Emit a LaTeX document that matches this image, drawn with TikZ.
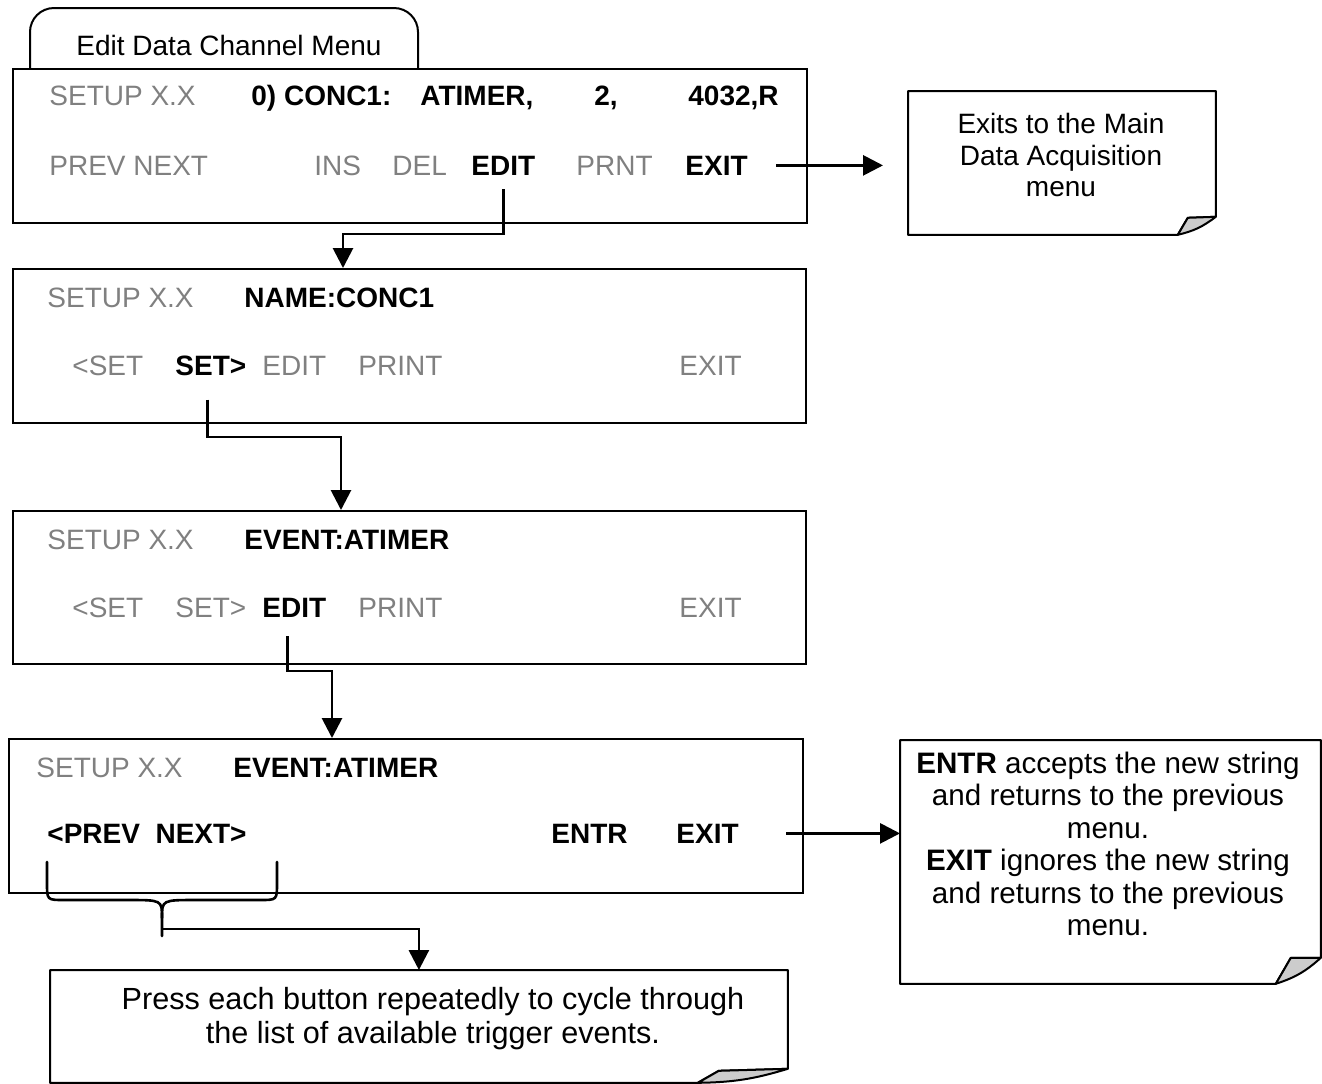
\documentclass[tikz,border=0pt]{standalone}
\usepackage{fontspec}
\setmainfont{Liberation Sans}
\usepackage{xcolor}
\usepackage{tikz}
\usetikzlibrary{arrows.meta}

\definecolor{lcdgray}{gray}{0.5}
\definecolor{flapgray}{gray}{0.8}

\begin{document}
\begin{tikzpicture}[x=0.5pt,y=-0.5pt,
  every node/.style={font=\fontsize{14pt}{16pt}\selectfont,inner sep=0pt},
  key/.style={anchor=base west,text=lcdgray},
  hot/.style={anchor=base west,font=\fontsize{14pt}{16pt}\selectfont\bfseries},
  screen/.style={draw,line width=1pt,anchor=north west},
  sheet/.style={anchor=north west},
  link/.style={line width=1.4pt,-{Triangle[length=10pt,width=10pt]}},
  paper/.style={line width=1pt,fill=white,line join=round},
  flap/.style={line width=1pt,fill=flapgray,line join=round}]
\useasboundingbox (0,0) rectangle (1322,1083);
% ---------- tab ----------
\draw[line width=1pt,rounded corners=12pt] (30,68) -- (30,8) -- (418,8) -- (418,68);
\node (tab) at (229,45) {Edit Data Channel Menu};
% ---------- screen 1 ----------
\node[screen,minimum width=397pt,minimum height=77pt] (box1) at (12,68) {};
\node[key] (setup1) at (49,105) {SETUP X.X};
\node[hot] (chan1) at (251,105) {0) CONC1:};
\node[hot] (evt1) at (420,105) {ATIMER,};
\node[hot] (num1) at (594,105) {2,};
\node[hot] (adr1) at (688,105) {4032,R};
\node[key] (prev1) at (49,175) {PREV NEXT};
\node[key] (ins1) at (314,175) {INS};
\node[key] (del1) at (392,175) {DEL};
\node[hot] (edit1) at (471,175) {EDIT};
\node[key] (prnt1) at (576,175) {PRNT};
\node[hot] (exit1) at (685,175) {EXIT};
% ---------- screen 2 ----------
\node[screen,minimum width=396.5pt,minimum height=77pt] (box2) at (12,268) {};
\node[key] (setup2) at (47,307) {SETUP X.X};
\node[hot] (name2) at (244,307) {NAME:CONC1};
\node[key] (lset2) at (72,375) {<SET};
\node[hot] (set2) at (175,375) {SET>};
\node[key] (edit2) at (262,375) {EDIT};
\node[key] (print2) at (358,375) {PRINT};
\node[key] (exit2) at (679,375) {EXIT};
% ---------- screen 3 ----------
\node[screen,minimum width=396.5pt,minimum height=76.5pt] (box3) at (12,510) {};
\node[key] (setup3) at (47,549) {SETUP X.X};
\node[hot] (event3) at (244,549) {EVENT:ATIMER};
\node[key] (lset3) at (72,617) {<SET};
\node[key] (set3) at (175,617) {SET>};
\node[hot] (edit3) at (262,617) {EDIT};
\node[key] (print3) at (358,617) {PRINT};
\node[key] (exit3) at (679,617) {EXIT};
% ---------- screen 4 ----------
\node[screen,minimum width=397pt,minimum height=77pt] (box4) at (8,738) {};
\node[key] (setup4) at (36,777) {SETUP X.X};
\node[hot] (event4) at (233,777) {EVENT:ATIMER};
\node[hot] (prev4) at (47,843) {<PREV~~NEXT>};
\node[hot] (entr4) at (551,843) {ENTR};
\node[hot] (exit4) at (676,843) {EXIT};
% ---------- notes ----------
\node[sheet,minimum width=153.5pt,minimum height=71.5pt] (note1) at (908,91) {};
\draw[paper] (note1.north west) -- (note1.north east) -- ([yshift=9pt]note1.south east)
  -- ([xshift=-14pt,yshift=8.5pt]note1.south east) -- ([xshift=-19pt]note1.south east)
  -- (note1.south west) -- cycle;
\draw[flap] ([xshift=-19pt]note1.south east) -- ([xshift=-14pt,yshift=8.5pt]note1.south east)
  -- ([yshift=9pt]note1.south east) to[bend left=12] ([xshift=-19pt]note1.south east);
\node[align=center,font=\fontsize{14pt}{15.75pt}\selectfont] (note1txt) at (1061,155)
  {Exits to the Main\\Data Acquisition\\menu};
\node[sheet,minimum width=210pt,minimum height=121.5pt] (note2) at (900,740) {};
\draw[paper] (note2.north west) -- (note2.north east) -- ([yshift=13pt]note2.south east)
  -- ([xshift=-15pt,yshift=13pt]note2.south east) -- ([xshift=-22.5pt]note2.south east)
  -- (note2.south west) -- cycle;
\draw[flap] ([xshift=-22.5pt]note2.south east) -- ([xshift=-15pt,yshift=13pt]note2.south east)
  -- ([yshift=13pt]note2.south east) to[bend left=12] ([xshift=-22.5pt]note2.south east);
\node[align=center,font=\fontsize{14.8pt}{16.2pt}\selectfont] (note2txt) at (1108,844)
  {\textbf{ENTR} accepts the new string\\and returns to the previous\\menu.\\
   \textbf{EXIT} ignores the new string\\and returns to the previous\\menu.};
\node[sheet,minimum width=368.5pt,minimum height=56pt] (note3) at (50,970) {};
\draw[paper] (note3.north west) -- (note3.north east) -- ([yshift=7pt]note3.south east)
  -- ([xshift=-34.5pt,yshift=6pt]note3.south east) -- ([xshift=-45pt]note3.south east)
  -- (note3.south west) -- cycle;
\draw[flap] ([xshift=-45pt]note3.south east) -- ([xshift=-34.5pt,yshift=6pt]note3.south east)
  -- ([yshift=7pt]note3.south east) to[bend left=8] ([xshift=-45pt]note3.south east);
\node[align=center,font=\fontsize{15.3pt}{17pt}\selectfont] (note3txt) at (433,1019)
  {Press each button repeatedly to cycle through\\the list of available trigger events.};
% ---------- brace under <PREV NEXT> ----------
\draw[line width=1.3pt,line cap=round]
  (47,862) -- (47,883) .. controls (47,900) .. (64,900) -- (128,900)
  .. controls (162,900) .. (162,918) -- (162,936);
\draw[line width=1.3pt,line cap=round]
  (162,918) .. controls (162,900) .. (196,900) -- (260,900)
  .. controls (277,900) .. (277,883) -- (277,862);
\coordinate (tip) at (162,929);
% ---------- connectors ----------
\coordinate (bend1) at (343,234);
\coordinate (bend2) at (341,437);
\coordinate (bend3) at (332,671);
\draw[link] ([xshift=14pt]exit1.east) -- ([xshift=-12.5pt]note1.west |- exit1);
\draw[link] ([yshift=-7pt]edit1.south) |- (bend1) -- (bend1 |- box2.north);
\draw[link] ([xshift=-1.5pt,yshift=-12pt]set2.south) |- (bend2) -- (bend2 |- box3.north);
\draw[link] ([xshift=-3.5pt,yshift=-9.5pt]edit3.south) |- (bend3) -- (bend3 |- box4.north);
\draw[link] ([xshift=23.5pt]exit4.east) -- (note2.west |- exit4);
\draw[link] (tip) -| (note3.north);
\end{tikzpicture}
\end{document}
